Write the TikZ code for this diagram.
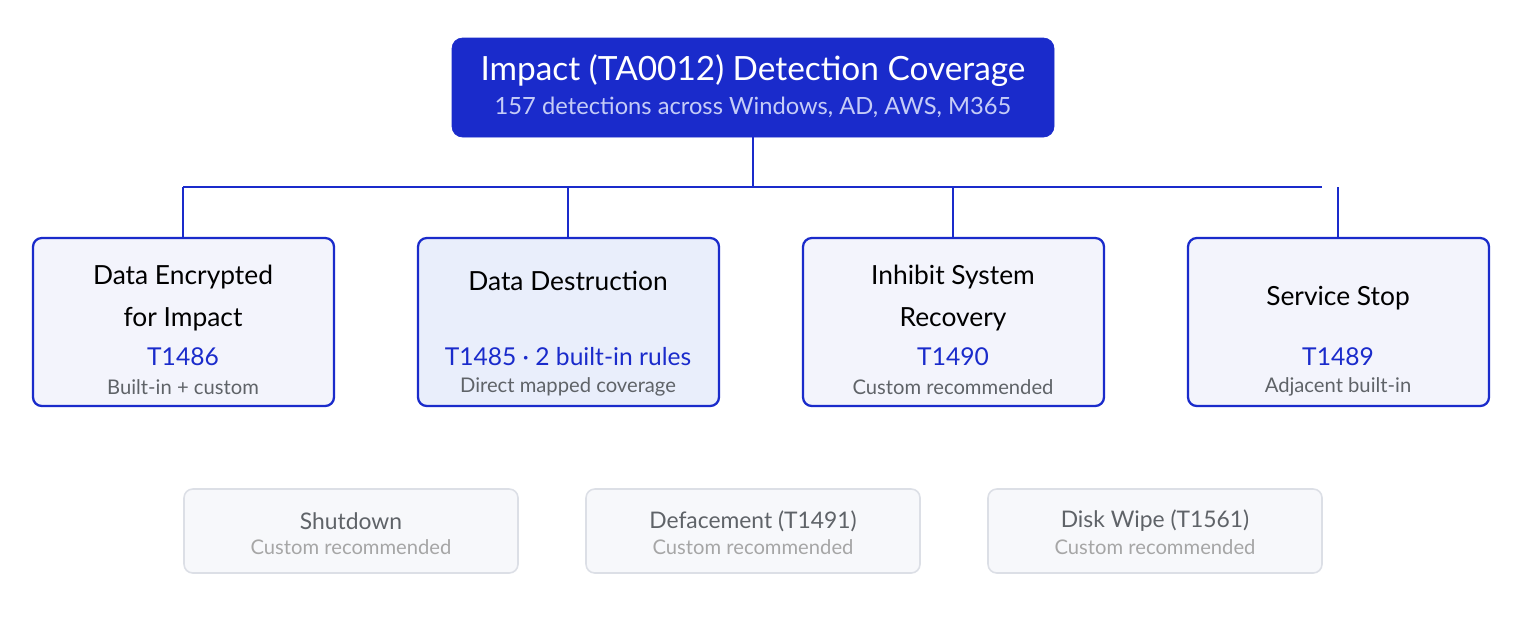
\documentclass[tikz,border=0pt]{standalone}
\usepackage{fontspec}
\setmainfont{Lato}
\usepackage{tikz}
\definecolor{navy}{HTML}{1A2BCB}
\definecolor{pale}{HTML}{F3F4FC}
\definecolor{paler}{HTML}{E9EEFB}
\definecolor{ghost}{HTML}{F7F8FB}
\definecolor{ghostline}{HTML}{DCDFE6}
\definecolor{subgray}{HTML}{5F6368}
\definecolor{lightblue}{HTML}{C5CCF7}
\tikzset{
  tech/.style={draw=navy, line width=1.3pt, rounded corners=5pt, fill=pale},
  extra/.style={draw=ghostline, line width=0.9pt, rounded corners=5pt, fill=ghost},
  wire/.style={draw=navy, line width=1.6pt}
}
\begin{document}
\begin{tikzpicture}[x=0.02cm,y=-0.02cm]
				\useasboundingbox (0,0) rectangle (1514,620);

				% header
				\draw[fill=navy, draw=navy, rounded corners=6pt] (452,38) rectangle (1054,137);
				\node[text=white, font=\fontsize{19}{22}\selectfont] (head) at (753,71) {Impact (TA0012) Detection Coverage};
				\node[text=lightblue, font=\fontsize{13.5}{16}\selectfont] (headsub) at (753,107) {157 detections across Windows, AD, AWS, M365};

				% bus
				\coordinate (top) at (753,137);
				\coordinate (mid) at (753,187);
				\draw[wire] (top) -- (mid);
				\draw[wire] (183,187) -- (1322,187);
				\foreach \x in {183,568,953,1338}
				\draw[wire] (\x,187) -- (\x,238);

				% technique boxes
				\draw[tech] (33,238) rectangle (334,406);
				\draw[tech, fill=paler] (418,238) rectangle (719,406);
				\draw[tech] (803,238) rectangle (1104,406);
				\draw[tech] (1188,238) rectangle (1489,406);

				\node[align=center, font=\fontsize{15}{24}\selectfont] (encT) at (183,298) {Data Encrypted\\for Impact};
				\node[font=\fontsize{15}{18}\selectfont] (desT) at (568,281) {Data Destruction};
				\node[align=center, font=\fontsize{15}{24}\selectfont] (inhT) at (953,298) {Inhibit System\\Recovery};
				\node[font=\fontsize{15}{18}\selectfont] (svcT) at (1338,298) {Service Stop};

				\foreach \x/\id/\note in {183/T1486/Built-in + custom, 568/T1485 · 2 built-in rules/Direct mapped coverage, 953/T1490/Custom recommended, 1338/T1489/Adjacent built-in}
				{
				\node[text=navy, font=\fontsize{14}{17}\selectfont] at (\x,357) {\id};
				\node[text=subgray, font=\fontsize{11.5}{14}\selectfont] at (\x,387) {\note};
				}

				% other techniques
				\foreach \x/\name in {351/Shutdown/Reboot (T1529), 753/Defacement (T1491), 1155/Disk Wipe (T1561)}
				{
				\draw[extra] (\x-167,489) rectangle (\x+167,573);
				\node[text=subgray, font=\fontsize{13}{16}\selectfont] at (\x,521) {\name};
				\node[text=gray!70, font=\fontsize{11.5}{14}\selectfont] at (\x,547) {Custom recommended};
				}
			\end{tikzpicture}
\end{document}
